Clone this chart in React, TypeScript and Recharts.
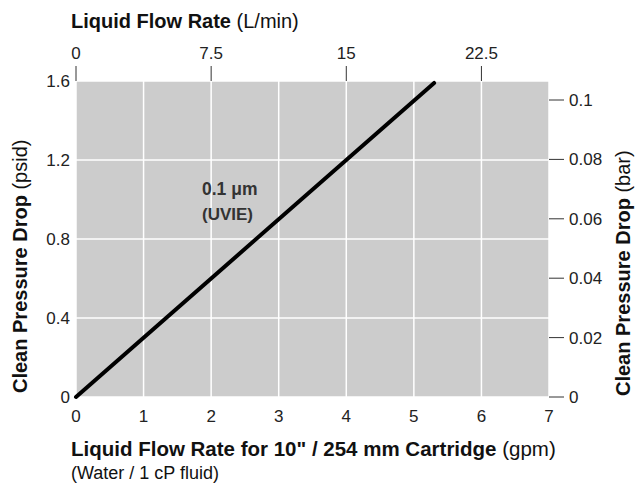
import { LineChart, Line, XAxis, YAxis, CartesianGrid } from "recharts";

// gpm on the bottom axis, psid on the left axis
const flowGpm = [0, 5.3];
const dropPsid = [0, 1.59];

const gpmTicks = [0, 1, 2, 3, 4, 5, 6, 7];
const lpmTicks = [0, 7.5, 15, 22.5];
const psidTicks = [0, 0.4, 0.8, 1.2, 1.6];
const barTicks = [0, 0.02, 0.04, 0.06, 0.08, 0.1];

// the chart puts 7.5 L/min on the 2 gpm line
const LPM_PER_GPM = 3.75;

const data = flowGpm.map((g, i) => ({ gpm: g, psid: dropPsid[i] }));

const FONT = '"Liberation Sans", Arial, Helvetica, sans-serif';
const tickStyle = { fill: "#222", fontSize: 17, fontFamily: FONT };

export default function App() {
  return (
    <div style={{ position: "absolute", left: 0, top: 0, width: 636, height: 484, background: "#fff" }}>
      <LineChart width={636} height={484} data={data} margin={{ top: 0, right: 0, bottom: 0, left: 0 }}>
        <CartesianGrid
          xAxisId="gpm"
          yAxisId="psi"
          fill="#cccccc"
          fillOpacity={1}
          stroke="#ffffff"
          strokeWidth={1.5}
        />
        <XAxis
          xAxisId="gpm"
          dataKey="gpm"
          type="number"
          domain={[0, 7]}
          ticks={gpmTicks}
          height={87}
          axisLine={false}
          tickLine={false}
          tickSize={0}
          tickMargin={13}
          tick={tickStyle}
          interval={0}
        />
        <XAxis
          xAxisId="lpm"
          dataKey="gpm"
          orientation="top"
          type="number"
          domain={[0, 7]}
          ticks={lpmTicks.map((v) => v / LPM_PER_GPM)}
          tickFormatter={(v: number) => String(v * LPM_PER_GPM)}
          height={81}
          axisLine={false}
          tickLine={{ stroke: "#333", strokeWidth: 1 }}
          tickSize={15}
          tickMargin={7}
          tick={tickStyle}
          interval={0}
        />
        <YAxis
          yAxisId="psi"
          type="number"
          domain={[0, 1.6]}
          ticks={psidTicks}
          width={76}
          axisLine={false}
          tickLine={false}
          tickSize={0}
          tickMargin={6}
          tick={tickStyle}
          interval={0}
        />
        <YAxis
          yAxisId="bar"
          orientation="right"
          type="number"
          domain={[0, 0.1064]}
          allowDataOverflow
          ticks={barTicks}
          width={87}
          axisLine={false}
          tickLine={{ stroke: "#333", strokeWidth: 1 }}
          tickSize={15}
          tickMargin={5}
          tick={tickStyle}
          interval={0}
        />
        <Line
          xAxisId="gpm"
          yAxisId="psi"
          type="linear"
          dataKey="psid"
          stroke="#000"
          strokeWidth={4}
          strokeLinecap="round"
          dot={false}
          isAnimationActive={false}
        />
      </LineChart>
      <svg
        width={636}
        height={484}
        style={{ position: "absolute", left: 0, top: 0, pointerEvents: "none" }}
        fontFamily={FONT}
      >
        <text x={71} y={28} fontSize={20} fill="#111">
          <tspan fontWeight="bold">Liquid Flow Rate</tspan>
          <tspan> (L/min)</tspan>
        </text>
        <text x={71} y={456} fontSize={20.5} fill="#111">
          <tspan fontWeight="bold">Liquid Flow Rate for 10" / 254 mm Cartridge</tspan>
          <tspan> (gpm)</tspan>
        </text>
        <text x={71} y={479} fontSize={18} fill="#111">
          (Water / 1 cP fluid)
        </text>
        <text transform="translate(27,393) rotate(-90)" fontSize={20} fill="#111">
          <tspan fontWeight="bold">Clean Pressure Drop</tspan>
          <tspan> (psid)</tspan>
        </text>
        <text transform="translate(630,396) rotate(-90)" fontSize={20} fill="#111">
          <tspan fontWeight="bold">Clean Pressure Drop</tspan>
          <tspan> (bar)</tspan>
        </text>
        <text x={202} y={195} fontSize={17.5} fontWeight="bold" fill="#333">
          0.1 μm
        </text>
        <text x={202} y={220} fontSize={17} fontWeight="bold" fill="#333">
          (UVIE)
        </text>
      </svg>
    </div>
  );
}
